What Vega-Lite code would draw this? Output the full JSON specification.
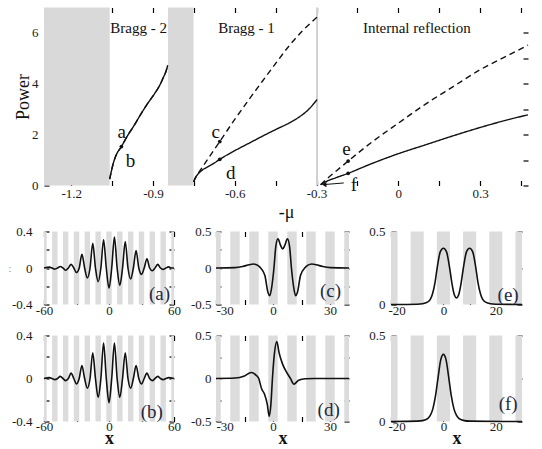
{
"$schema": "https://vega.github.io/schema/vega-lite/v6.json",
"background": "white",
"padding": {"left": 8, "top": 6.5, "right": 0, "bottom": 0},
"config": {
  "font": "Liberation Serif",
  "view": {"stroke": null},
  "axis": {"domain": false, "tickColor": "black", "tickWidth": 1.2, "tickSize": 5, "offset": -5, "grid": false, "labelFont": "Liberation Serif", "labelFontSize": 13, "labelColor": "#1a1a1a", "titleFont": "Liberation Serif", "titleFontWeight": "normal", "titleColor": "#111", "labelFlush": false, "labelOverlap": false, "labelBound": false, "zindex": 1}
},
"spacing": 4,
"vconcat": [
 {
  "width": 484, "height": 178,
  "layer": [
   {"data": {"values": [{"lo": -1.3, "hi": -1.059}, {"lo": -0.845, "hi": -0.751}]},
    "mark": {"type": "rect", "color": "#d9d9d9"},
    "encoding": {
      "x": {"field": "lo", "type": "quantitative", "scale": {"domain": [-1.3, 0.476], "nice": false, "zero": false},
            "axis": {"orient": "bottom", "offset": -5, "values": [-1.2,-1.05,-0.9,-0.75,-0.6,-0.45,-0.3,-0.15,0,0.15,0.3,0.45], "labelExpr": "abs(round(datum.value*100)) % 30 == 0 ? (datum.value == 0 ? '0' : replace(format(datum.value, '.1f'), '−', '-')) : ''", "labelPadding": 2, "title": "-μ", "titleFontSize": 18, "titlePadding": 3}},
      "x2": {"field": "hi"}}},
   {"data": {"values": [{"mu": -0.298}]},
    "mark": {"type": "rule", "color": "#d0d0d0", "strokeWidth": 2},
    "encoding": {"x": {"field": "mu", "type": "quantitative", "scale": {"domain": [-1.3, 0.476], "nice": false, "zero": false}, "axis": null}}},
   {"data": {"values": [
      {"seg": "B2", "branch": "lower", "mu": -1.059, "P": 0.25}, {"seg": "B2", "branch": "lower", "mu": -1.052, "P": 0.6}, {"seg": "B2", "branch": "lower", "mu": -1.045, "P": 0.9}, {"seg": "B2", "branch": "lower", "mu": -1.035, "P": 1.2}, {"seg": "B2", "branch": "lower", "mu": -1.016, "P": 1.53}, {"seg": "B2", "branch": "lower", "mu": -0.995, "P": 1.93}, {"seg": "B2", "branch": "lower", "mu": -0.97, "P": 2.35}, {"seg": "B2", "branch": "lower", "mu": -0.945, "P": 2.8}, {"seg": "B2", "branch": "lower", "mu": -0.92, "P": 3.22}, {"seg": "B2", "branch": "lower", "mu": -0.895, "P": 3.6}, {"seg": "B2", "branch": "lower", "mu": -0.875, "P": 3.95}, {"seg": "B2", "branch": "lower", "mu": -0.862, "P": 4.25}, {"seg": "B2", "branch": "lower", "mu": -0.852, "P": 4.5}, {"seg": "B2", "branch": "lower", "mu": -0.846, "P": 4.73},
      {"seg": "B1", "branch": "lower", "mu": -0.751, "P": 0.15}, {"seg": "B1", "branch": "lower", "mu": -0.745, "P": 0.3}, {"seg": "B1", "branch": "lower", "mu": -0.735, "P": 0.45}, {"seg": "B1", "branch": "lower", "mu": -0.72, "P": 0.6}, {"seg": "B1", "branch": "lower", "mu": -0.7, "P": 0.73}, {"seg": "B1", "branch": "lower", "mu": -0.68, "P": 0.85}, {"seg": "B1", "branch": "lower", "mu": -0.655, "P": 1.03}, {"seg": "B1", "branch": "lower", "mu": -0.6, "P": 1.37}, {"seg": "B1", "branch": "lower", "mu": -0.55, "P": 1.65}, {"seg": "B1", "branch": "lower", "mu": -0.5, "P": 1.93}, {"seg": "B1", "branch": "lower", "mu": -0.45, "P": 2.2}, {"seg": "B1", "branch": "lower", "mu": -0.4, "P": 2.46}, {"seg": "B1", "branch": "lower", "mu": -0.367, "P": 2.67}, {"seg": "B1", "branch": "lower", "mu": -0.33, "P": 2.98}, {"seg": "B1", "branch": "lower", "mu": -0.298, "P": 3.38},
      {"seg": "IR", "branch": "lower", "mu": -0.285, "P": 0.03}, {"seg": "IR", "branch": "lower", "mu": -0.26, "P": 0.18}, {"seg": "IR", "branch": "lower", "mu": -0.23, "P": 0.3}, {"seg": "IR", "branch": "lower", "mu": -0.184, "P": 0.48}, {"seg": "IR", "branch": "lower", "mu": -0.1, "P": 0.85}, {"seg": "IR", "branch": "lower", "mu": 0, "P": 1.25}, {"seg": "IR", "branch": "lower", "mu": 0.1, "P": 1.6}, {"seg": "IR", "branch": "lower", "mu": 0.2, "P": 1.95}, {"seg": "IR", "branch": "lower", "mu": 0.3, "P": 2.28}, {"seg": "IR", "branch": "lower", "mu": 0.4, "P": 2.58}, {"seg": "IR", "branch": "lower", "mu": 0.476, "P": 2.78},
      {"seg": "B2", "branch": "upper", "mu": -1.059, "P": 0.25}, {"seg": "B2", "branch": "upper", "mu": -1.052, "P": 0.6}, {"seg": "B2", "branch": "upper", "mu": -1.045, "P": 0.9}, {"seg": "B2", "branch": "upper", "mu": -1.035, "P": 1.2}, {"seg": "B2", "branch": "upper", "mu": -1.016, "P": 1.53}, {"seg": "B2", "branch": "upper", "mu": -0.995, "P": 1.93}, {"seg": "B2", "branch": "upper", "mu": -0.97, "P": 2.35}, {"seg": "B2", "branch": "upper", "mu": -0.945, "P": 2.8}, {"seg": "B2", "branch": "upper", "mu": -0.92, "P": 3.22}, {"seg": "B2", "branch": "upper", "mu": -0.895, "P": 3.6}, {"seg": "B2", "branch": "upper", "mu": -0.875, "P": 3.95}, {"seg": "B2", "branch": "upper", "mu": -0.862, "P": 4.25}, {"seg": "B2", "branch": "upper", "mu": -0.852, "P": 4.5}, {"seg": "B2", "branch": "upper", "mu": -0.846, "P": 4.73},
      {"seg": "B1", "branch": "upper", "mu": -0.751, "P": 0.15}, {"seg": "B1", "branch": "upper", "mu": -0.74, "P": 0.38}, {"seg": "B1", "branch": "upper", "mu": -0.725, "P": 0.62}, {"seg": "B1", "branch": "upper", "mu": -0.7, "P": 1.02}, {"seg": "B1", "branch": "upper", "mu": -0.655, "P": 1.73}, {"seg": "B1", "branch": "upper", "mu": -0.6, "P": 2.6}, {"seg": "B1", "branch": "upper", "mu": -0.55, "P": 3.35}, {"seg": "B1", "branch": "upper", "mu": -0.5, "P": 4.08}, {"seg": "B1", "branch": "upper", "mu": -0.45, "P": 4.8}, {"seg": "B1", "branch": "upper", "mu": -0.4, "P": 5.5}, {"seg": "B1", "branch": "upper", "mu": -0.35, "P": 6.1}, {"seg": "B1", "branch": "upper", "mu": -0.298, "P": 6.62},
      {"seg": "IR", "branch": "upper", "mu": -0.285, "P": 0.03}, {"seg": "IR", "branch": "upper", "mu": -0.26, "P": 0.28}, {"seg": "IR", "branch": "upper", "mu": -0.23, "P": 0.55}, {"seg": "IR", "branch": "upper", "mu": -0.184, "P": 0.96}, {"seg": "IR", "branch": "upper", "mu": -0.1, "P": 1.68}, {"seg": "IR", "branch": "upper", "mu": 0, "P": 2.45}, {"seg": "IR", "branch": "upper", "mu": 0.1, "P": 3.2}, {"seg": "IR", "branch": "upper", "mu": 0.2, "P": 3.88}, {"seg": "IR", "branch": "upper", "mu": 0.3, "P": 4.55}, {"seg": "IR", "branch": "upper", "mu": 0.4, "P": 5.1}, {"seg": "IR", "branch": "upper", "mu": 0.476, "P": 5.52}
    ]},
    "mark": {"type": "line", "color": "#111", "strokeWidth": 1.4, "interpolate": "monotone"},
    "encoding": {
      "x": {"field": "mu", "type": "quantitative", "scale": {"domain": [-1.3, 0.476], "nice": false, "zero": false},
            "axis": {"orient": "top", "offset": -5, "values": [-1.2,-1.05,-0.9,-0.75,-0.6,-0.45,-0.3,-0.15,0,0.15,0.3,0.45], "labels": false, "title": null}},
      "y": {"field": "P", "type": "quantitative", "scale": {"domain": [0, 7], "nice": false, "zero": false},
            "axis": {"orient": "left", "offset": -5, "values": [0,1,2,3,4,5,6], "labelExpr": "datum.value % 2 == 0 ? format(datum.value, 'd') : ''", "labelPadding": 6, "title": "Power", "titleFontSize": 18, "titlePadding": -1}},
      "strokeDash": {"field": "branch", "type": "nominal", "scale": {"domain": ["lower", "upper"], "range": [[1, 0], [6, 4]]}, "legend": null},
      "detail": {"field": "seg"}}},
   {"data": {"values": [{"mu": -0.2, "P": 0.1}, {"mu": -0.268, "P": 0.04}]},
    "mark": {"type": "line", "color": "#111", "strokeWidth": 1},
    "encoding": {"x": {"field": "mu", "type": "quantitative", "scale": {"domain": [-1.3, 0.476], "nice": false, "zero": false}, "axis": null},
                 "y": {"field": "P", "type": "quantitative", "scale": {"domain": [0, 7], "nice": false, "zero": false}, "axis": null}}},
   {"data": {"values": [{"mu": -0.272, "P": 0.037}]},
    "mark": {"type": "point", "shape": "triangle-left", "filled": true, "color": "#111", "size": 28, "opacity": 1},
    "encoding": {"x": {"field": "mu", "type": "quantitative", "scale": {"domain": [-1.3, 0.476], "nice": false, "zero": false}, "axis": null},
                 "y": {"field": "P", "type": "quantitative", "scale": {"domain": [0, 7], "nice": false, "zero": false}, "axis": null}}},
   {"data": {"values": [{"mu": -1.016, "P": 1.53}, {"mu": -0.655, "P": 1.73}, {"mu": -0.655, "P": 1.03}, {"mu": -0.184, "P": 0.96}, {"mu": -0.184, "P": 0.48}]},
    "mark": {"type": "circle", "color": "#111", "size": 14, "opacity": 1},
    "encoding": {"x": {"field": "mu", "type": "quantitative", "scale": {"domain": [-1.3, 0.476], "nice": false, "zero": false}, "axis": null},
                 "y": {"field": "P", "type": "quantitative", "scale": {"domain": [0, 7], "nice": false, "zero": false},
                       "axis": {"orient": "right", "offset": -5, "values": [0,1,2,3,4,5,6], "labels": false, "title": null}}}},
   {"data": {"values": [{"label": "Bragg - 2", "mu": -0.953, "P": 6.0}, {"label": "Bragg - 1", "mu": -0.557, "P": 6.0}, {"label": "Internal reflection", "mu": 0.068, "P": 6.0}]},
    "mark": {"type": "text", "font": "Liberation Serif", "fontSize": 15, "color": "#111", "baseline": "alphabetic", "align": "center"},
    "encoding": {"x": {"field": "mu", "type": "quantitative", "scale": {"domain": [-1.3, 0.476], "nice": false, "zero": false}, "axis": null},
                 "y": {"field": "P", "type": "quantitative", "scale": {"domain": [0, 7], "nice": false, "zero": false}, "axis": null},
                 "text": {"field": "label"}}},
   {"data": {"values": [{"label": "a", "mu": -1.015, "P": 1.85}, {"label": "b", "mu": -0.983, "P": 0.72}, {"label": "c", "mu": -0.67, "P": 1.85}, {"label": "d", "mu": -0.615, "P": 0.27}, {"label": "e", "mu": -0.19, "P": 1.18}, {"label": "f", "mu": -0.163, "P": -0.2}]},
    "mark": {"type": "text", "font": "Liberation Serif", "fontSize": 19, "color": "#111", "baseline": "alphabetic", "align": "center"},
    "encoding": {"x": {"field": "mu", "type": "quantitative", "scale": {"domain": [-1.3, 0.476], "nice": false, "zero": false}, "axis": null},
                 "y": {"field": "P", "type": "quantitative", "scale": {"domain": [0, 7], "nice": false, "zero": false}, "axis": null},
                 "text": {"field": "label"}}},
   {"mark": {"type": "rect", "filled": false, "stroke": "black", "strokeWidth": 1},
    "encoding": {"x": {"datum": -1.3, "type": "quantitative", "scale": {"domain": [-1.3, 0.476], "nice": false, "zero": false}, "axis": null}, "x2": {"datum": 0.476},
                 "y": {"datum": 0, "type": "quantitative", "scale": {"domain": [0, 7], "nice": false, "zero": false}, "axis": null}, "y2": {"datum": 7}}}
  ]
 },
 {
  "columns": 3,
  "bounds": "flush",
  "spacing": {"row": 31, "column": 42},
  "concat": [
   {"width": 130, "height": 73,
    "layer": [
     {"data": {"values": [{"lo": -60, "hi": -57.5}, {"lo": -52.5, "hi": -47.5}, {"lo": -42.5, "hi": -37.5}, {"lo": -32.5, "hi": -27.5}, {"lo": -22.5, "hi": -17.5}, {"lo": -12.5, "hi": -7.5}, {"lo": -2.5, "hi": 2.5}, {"lo": 7.5, "hi": 12.5}, {"lo": 17.5, "hi": 22.5}, {"lo": 27.5, "hi": 32.5}, {"lo": 37.5, "hi": 42.5}, {"lo": 47.5, "hi": 52.5}, {"lo": 57.5, "hi": 60}]},
      "mark": {"type": "rect", "color": "#dcdcdc"},
      "encoding": {"x": {"field": "lo", "type": "quantitative", "scale": {"domain": [-60, 60], "nice": false, "zero": false},
                         "axis": {"orient": "bottom", "offset": -5, "values": [-60,-30,0,30,60], "labelExpr": "datum.value % 60 == 0 ? replace(format(datum.value, 'd'), '−', '-') : ''", "labelPadding": 0, "title": null}},
                   "x2": {"field": "hi"}}},
     {"data": {"values": [{"x": -60, "y": 0}, {"x": -55, "y": 0.01}, {"x": -52.5, "y": 0}, {"x": -50, "y": -0.012}, {"x": -47.5, "y": 0}, {"x": -45, "y": 0.016}, {"x": -42.5, "y": 0}, {"x": -40, "y": -0.025}, {"x": -37.5, "y": 0}, {"x": -35, "y": 0.04}, {"x": -32.5, "y": 0}, {"x": -30, "y": -0.05}, {"x": -27.5, "y": 0}, {"x": -25, "y": 0.15}, {"x": -22.5, "y": 0}, {"x": -20, "y": -0.11}, {"x": -17.5, "y": 0}, {"x": -15, "y": 0.27}, {"x": -12.5, "y": 0}, {"x": -10, "y": -0.15}, {"x": -7.5, "y": 0}, {"x": -5, "y": 0.31}, {"x": -2.5, "y": 0}, {"x": 0, "y": -0.22}, {"x": 2.5, "y": 0}, {"x": 5, "y": 0.34}, {"x": 7.5, "y": 0}, {"x": 10, "y": -0.19}, {"x": 12.5, "y": 0}, {"x": 15, "y": 0.29}, {"x": 17.5, "y": 0}, {"x": 20, "y": -0.12}, {"x": 22.5, "y": 0}, {"x": 25, "y": 0.19}, {"x": 27.5, "y": 0}, {"x": 30, "y": -0.07}, {"x": 32.5, "y": 0}, {"x": 35, "y": 0.1}, {"x": 37.5, "y": 0}, {"x": 40, "y": -0.03}, {"x": 42.5, "y": 0}, {"x": 45, "y": 0.04}, {"x": 47.5, "y": 0}, {"x": 50, "y": -0.015}, {"x": 52.5, "y": 0}, {"x": 55, "y": 0.012}, {"x": 57.5, "y": 0}, {"x": 60, "y": 0}]},
      "mark": {"type": "line", "color": "#111", "strokeWidth": 1.6, "interpolate": "monotone"},
      "encoding": {"x": {"field": "x", "type": "quantitative", "scale": {"domain": [-60, 60], "nice": false, "zero": false}, "axis": {"orient": "top", "offset": -5, "values": [-60,-30,0,30,60], "labels": false, "title": null}},
                   "y": {"field": "y", "type": "quantitative", "scale": {"domain": [-0.4, 0.4], "nice": false, "zero": false}, "axis": {"orient": "left", "offset": -5, "values": [-0.4,-0.2,0,0.2,0.4], "labelExpr": "abs(datum.value) > 0.3 ? replace(format(datum.value, '.1f'), '−', '-') : (datum.value == 0 ? '0' : '')", "labelPadding": 12, "title": ":", "titleAngle": 0, "titleFontSize": 10, "titleColor": "#888", "titleAlign": "right", "titleBaseline": "middle", "titlePadding": 0.6}}}},
     {"data": {"values": [{"label": "(a)", "x": 46.6, "y": -0.356}]},
      "mark": {"type": "text", "font": "Liberation Serif", "fontSize": 19, "color": "#1f2a44", "baseline": "alphabetic", "align": "center"},
      "encoding": {"x": {"field": "x", "type": "quantitative", "scale": {"domain": [-60, 60], "nice": false, "zero": false}, "axis": null},
                   "y": {"field": "y", "type": "quantitative", "scale": {"domain": [-0.4, 0.4], "nice": false, "zero": false}, "axis": {"orient": "right", "offset": -5, "values": [-0.4,-0.2,0,0.2,0.4], "labels": false, "title": null}},
                   "text": {"field": "label"}}},
     {"mark": {"type": "rect", "filled": false, "stroke": "black", "strokeWidth": 1},
      "encoding": {"x": {"datum": -60, "type": "quantitative", "scale": {"domain": [-60, 60], "nice": false, "zero": false}, "axis": null}, "x2": {"datum": 60},
                   "y": {"datum": -0.4, "type": "quantitative", "scale": {"domain": [-0.4, 0.4], "nice": false, "zero": false}, "axis": null}, "y2": {"datum": 0.4}}}
    ]},
   {"width": 133, "height": 73,
    "layer": [
     {"data": {"values": [{"lo": -30, "hi": -27.5}, {"lo": -22.5, "hi": -17.5}, {"lo": -12.5, "hi": -7.5}, {"lo": -2.5, "hi": 2.5}, {"lo": 7.5, "hi": 12.5}, {"lo": 17.5, "hi": 22.5}, {"lo": 27.5, "hi": 32.5}, {"lo": 37.5, "hi": 40}]},
      "mark": {"type": "rect", "color": "#dcdcdc"},
      "encoding": {"x": {"field": "lo", "type": "quantitative", "scale": {"domain": [-30, 40], "nice": false, "zero": false},
                         "axis": {"orient": "bottom", "offset": -5, "values": [-30,-15,0,15,30], "labelExpr": "datum.value % 30 == 0 ? replace(format(datum.value, 'd'), '−', '-') : ''", "labelPadding": 0, "labelFlush": true, "labelFlushOffset": 0, "title": null}},
                   "x2": {"field": "hi"}}},
     {"data": {"values": [{"x": -30, "y": 0}, {"x": -20, "y": 0.005}, {"x": -16, "y": 0.02}, {"x": -12.5, "y": 0.045}, {"x": -10.3, "y": 0.055}, {"x": -8, "y": 0.035}, {"x": -6.5, "y": 0}, {"x": -4.3, "y": -0.1}, {"x": -2.6, "y": -0.34}, {"x": -1.7, "y": -0.38}, {"x": -0.6, "y": -0.25}, {"x": 0.5, "y": 0}, {"x": 1.5, "y": 0.3}, {"x": 2.6, "y": 0.4}, {"x": 4, "y": 0.31}, {"x": 5.1, "y": 0.26}, {"x": 6.2, "y": 0.31}, {"x": 7.6, "y": 0.4}, {"x": 8.7, "y": 0.3}, {"x": 9.7, "y": 0}, {"x": 10.8, "y": -0.25}, {"x": 11.9, "y": -0.38}, {"x": 12.8, "y": -0.34}, {"x": 14.5, "y": -0.1}, {"x": 16.7, "y": 0}, {"x": 18.2, "y": 0.035}, {"x": 20.5, "y": 0.055}, {"x": 22.7, "y": 0.045}, {"x": 26.2, "y": 0.02}, {"x": 30.2, "y": 0.005}, {"x": 40, "y": 0}]},
      "mark": {"type": "line", "color": "#111", "strokeWidth": 1.6, "interpolate": "monotone"},
      "encoding": {"x": {"field": "x", "type": "quantitative", "scale": {"domain": [-30, 40], "nice": false, "zero": false}, "axis": {"orient": "top", "offset": -5, "values": [-30,-15,0,15,30], "labels": false, "title": null}},
                   "y": {"field": "y", "type": "quantitative", "scale": {"domain": [-0.5, 0.5], "nice": false, "zero": false}, "axis": {"orient": "left", "offset": -5, "values": [-0.5,-0.25,0,0.25,0.5], "labelExpr": "abs(datum.value) > 0.4 ? replace(format(datum.value, '.1f'), '−', '-') : (datum.value == 0 ? '0' : '')", "labelPadding": 5, "title": null}}}},
     {"data": {"values": [{"label": "(c)", "x": 30.3, "y": -0.4}]},
      "mark": {"type": "text", "font": "Liberation Serif", "fontSize": 19, "color": "#1f2a44", "baseline": "alphabetic", "align": "center"},
      "encoding": {"x": {"field": "x", "type": "quantitative", "scale": {"domain": [-30, 40], "nice": false, "zero": false}, "axis": null},
                   "y": {"field": "y", "type": "quantitative", "scale": {"domain": [-0.5, 0.5], "nice": false, "zero": false}, "axis": {"orient": "right", "offset": -5, "values": [-0.5,-0.25,0,0.25,0.5], "labels": false, "title": null}},
                   "text": {"field": "label"}}},
     {"mark": {"type": "rect", "filled": false, "stroke": "black", "strokeWidth": 1},
      "encoding": {"x": {"datum": -30, "type": "quantitative", "scale": {"domain": [-30, 40], "nice": false, "zero": false}, "axis": null}, "x2": {"datum": 40},
                   "y": {"datum": -0.5, "type": "quantitative", "scale": {"domain": [-0.5, 0.5], "nice": false, "zero": false}, "axis": null}, "y2": {"datum": 0.5}}}
    ]},
   {"width": 131, "height": 73,
    "layer": [
     {"data": {"values": [{"lo": -20, "hi": -17.5}, {"lo": -12.5, "hi": -7.5}, {"lo": -2.5, "hi": 2.5}, {"lo": 7.5, "hi": 12.5}, {"lo": 17.5, "hi": 22.5}, {"lo": 27.5, "hi": 30}]},
      "mark": {"type": "rect", "color": "#dcdcdc"},
      "encoding": {"x": {"field": "lo", "type": "quantitative", "scale": {"domain": [-20, 30], "nice": false, "zero": false},
                         "axis": {"orient": "bottom", "offset": -5, "values": [-20,-10,0,10,20], "labelExpr": "datum.value % 20 == 0 ? replace(format(datum.value, 'd'), '−', '-') : ''", "labelPadding": 0, "labelFlush": true, "labelFlushOffset": 3, "title": null}},
                   "x2": {"field": "hi"}}},
     {"data": {"values": [{"x": -20, "y": 0}, {"x": -10, "y": 0.002}, {"x": -8, "y": 0.005}, {"x": -6.1, "y": 0.016}, {"x": -5, "y": 0.035}, {"x": -4.2, "y": 0.07}, {"x": -3.2, "y": 0.15}, {"x": -2.3, "y": 0.26}, {"x": -1.2, "y": 0.36}, {"x": 0, "y": 0.385}, {"x": 1.2, "y": 0.36}, {"x": 2.3, "y": 0.26}, {"x": 3.3, "y": 0.14}, {"x": 4.2, "y": 0.065}, {"x": 5, "y": 0.045}, {"x": 5.8, "y": 0.065}, {"x": 6.7, "y": 0.14}, {"x": 7.7, "y": 0.26}, {"x": 8.8, "y": 0.36}, {"x": 10, "y": 0.385}, {"x": 11.2, "y": 0.36}, {"x": 12.3, "y": 0.26}, {"x": 13.2, "y": 0.15}, {"x": 14.2, "y": 0.07}, {"x": 15, "y": 0.035}, {"x": 16.1, "y": 0.016}, {"x": 18, "y": 0.005}, {"x": 20, "y": 0.002}, {"x": 30, "y": 0}]},
      "mark": {"type": "line", "color": "#111", "strokeWidth": 1.6, "interpolate": "monotone"},
      "encoding": {"x": {"field": "x", "type": "quantitative", "scale": {"domain": [-20, 30], "nice": false, "zero": false}, "axis": {"orient": "top", "offset": -5, "values": [-20,-10,0,10,20], "labels": false, "title": null}},
                   "y": {"field": "y", "type": "quantitative", "scale": {"domain": [0, 0.5], "nice": false, "zero": false}, "axis": {"orient": "left", "offset": -5, "values": [0,0.25,0.5], "labelExpr": "abs(datum.value) > 0.4 ? replace(format(datum.value, '.1f'), '−', '-') : (datum.value == 0 ? '0' : '')", "labelPadding": 6, "title": null}}}},
     {"data": {"values": [{"label": "(e)", "x": 24.7, "y": 0.027}]},
      "mark": {"type": "text", "font": "Liberation Serif", "fontSize": 19, "color": "#1f2a44", "baseline": "alphabetic", "align": "center"},
      "encoding": {"x": {"field": "x", "type": "quantitative", "scale": {"domain": [-20, 30], "nice": false, "zero": false}, "axis": null},
                   "y": {"field": "y", "type": "quantitative", "scale": {"domain": [0, 0.5], "nice": false, "zero": false}, "axis": {"orient": "right", "offset": -5, "values": [0,0.25,0.5], "labels": false, "title": null}},
                   "text": {"field": "label"}}},
     {"mark": {"type": "rect", "filled": false, "stroke": "black", "strokeWidth": 1},
      "encoding": {"x": {"datum": -20, "type": "quantitative", "scale": {"domain": [-20, 30], "nice": false, "zero": false}, "axis": null}, "x2": {"datum": 30},
                   "y": {"datum": 0, "type": "quantitative", "scale": {"domain": [0, 0.5], "nice": false, "zero": false}, "axis": null}, "y2": {"datum": 0.5}}}
    ]},
   {"width": 130, "height": 86,
    "layer": [
     {"data": {"values": [{"lo": -60, "hi": -57.5}, {"lo": -52.5, "hi": -47.5}, {"lo": -42.5, "hi": -37.5}, {"lo": -32.5, "hi": -27.5}, {"lo": -22.5, "hi": -17.5}, {"lo": -12.5, "hi": -7.5}, {"lo": -2.5, "hi": 2.5}, {"lo": 7.5, "hi": 12.5}, {"lo": 17.5, "hi": 22.5}, {"lo": 27.5, "hi": 32.5}, {"lo": 37.5, "hi": 42.5}, {"lo": 47.5, "hi": 52.5}, {"lo": 57.5, "hi": 60}]},
      "mark": {"type": "rect", "color": "#dcdcdc"},
      "encoding": {"x": {"field": "lo", "type": "quantitative", "scale": {"domain": [-60, 60], "nice": false, "zero": false},
                         "axis": {"orient": "bottom", "offset": -5, "values": [-60,-30,0,30,60], "labelExpr": "datum.value % 60 == 0 ? replace(format(datum.value, 'd'), '−', '-') : ''", "labelPadding": -1, "title": "x", "titleFontSize": 18, "titleFontWeight": "bold", "titlePadding": -4}},
                   "x2": {"field": "hi"}}},
     {"data": {"values": [{"x": -60, "y": 0}, {"x": -55, "y": 0.008}, {"x": -52.5, "y": 0}, {"x": -50, "y": -0.01}, {"x": -47.5, "y": 0}, {"x": -45, "y": 0.02}, {"x": -42.5, "y": 0}, {"x": -40, "y": -0.02}, {"x": -37.5, "y": 0}, {"x": -35, "y": 0.05}, {"x": -32.5, "y": 0}, {"x": -30, "y": -0.05}, {"x": -27.5, "y": 0}, {"x": -25, "y": 0.12}, {"x": -22.5, "y": 0}, {"x": -20, "y": -0.09}, {"x": -17.5, "y": 0}, {"x": -15, "y": 0.24}, {"x": -12.5, "y": 0}, {"x": -10, "y": -0.175}, {"x": -7.5, "y": 0}, {"x": -5, "y": 0.33}, {"x": -2.5, "y": 0}, {"x": 0, "y": -0.225}, {"x": 2.5, "y": 0}, {"x": 5, "y": 0.33}, {"x": 7.5, "y": 0}, {"x": 10, "y": -0.175}, {"x": 12.5, "y": 0}, {"x": 15, "y": 0.24}, {"x": 17.5, "y": 0}, {"x": 20, "y": -0.09}, {"x": 22.5, "y": 0}, {"x": 25, "y": 0.12}, {"x": 27.5, "y": 0}, {"x": 30, "y": -0.05}, {"x": 32.5, "y": 0}, {"x": 35, "y": 0.05}, {"x": 37.5, "y": 0}, {"x": 40, "y": -0.02}, {"x": 42.5, "y": 0}, {"x": 45, "y": 0.02}, {"x": 47.5, "y": 0}, {"x": 50, "y": -0.01}, {"x": 52.5, "y": 0}, {"x": 55, "y": 0.008}, {"x": 60, "y": 0}]},
      "mark": {"type": "line", "color": "#111", "strokeWidth": 1.6, "interpolate": "monotone"},
      "encoding": {"x": {"field": "x", "type": "quantitative", "scale": {"domain": [-60, 60], "nice": false, "zero": false}, "axis": {"orient": "top", "offset": -5, "values": [-60,-30,0,30,60], "labels": false, "title": null}},
                   "y": {"field": "y", "type": "quantitative", "scale": {"domain": [-0.4, 0.4], "nice": false, "zero": false}, "axis": {"orient": "left", "offset": -5, "values": [-0.4,-0.2,0,0.2,0.4], "labelExpr": "abs(datum.value) > 0.3 ? replace(format(datum.value, '.1f'), '−', '-') : (datum.value == 0 ? '0' : '')", "labelPadding": 12, "title": null}}}},
     {"data": {"values": [{"label": "(b)", "x": 39.5, "y": -0.37}]},
      "mark": {"type": "text", "font": "Liberation Serif", "fontSize": 19, "color": "#1f2a44", "baseline": "alphabetic", "align": "center"},
      "encoding": {"x": {"field": "x", "type": "quantitative", "scale": {"domain": [-60, 60], "nice": false, "zero": false}, "axis": null},
                   "y": {"field": "y", "type": "quantitative", "scale": {"domain": [-0.4, 0.4], "nice": false, "zero": false}, "axis": {"orient": "right", "offset": -5, "values": [-0.4,-0.2,0,0.2,0.4], "labels": false, "title": null}},
                   "text": {"field": "label"}}},
     {"mark": {"type": "rect", "filled": false, "stroke": "black", "strokeWidth": 1},
      "encoding": {"x": {"datum": -60, "type": "quantitative", "scale": {"domain": [-60, 60], "nice": false, "zero": false}, "axis": null}, "x2": {"datum": 60},
                   "y": {"datum": -0.4, "type": "quantitative", "scale": {"domain": [-0.4, 0.4], "nice": false, "zero": false}, "axis": null}, "y2": {"datum": 0.4}}}
    ]},
   {"width": 133, "height": 86,
    "layer": [
     {"data": {"values": [{"lo": -30, "hi": -27.5}, {"lo": -22.5, "hi": -17.5}, {"lo": -12.5, "hi": -7.5}, {"lo": -2.5, "hi": 2.5}, {"lo": 7.5, "hi": 12.5}, {"lo": 17.5, "hi": 22.5}, {"lo": 27.5, "hi": 32.5}, {"lo": 37.5, "hi": 40}]},
      "mark": {"type": "rect", "color": "#dcdcdc"},
      "encoding": {"x": {"field": "lo", "type": "quantitative", "scale": {"domain": [-30, 40], "nice": false, "zero": false},
                         "axis": {"orient": "bottom", "offset": -5, "values": [-30,-15,0,15,30], "labelExpr": "datum.value % 30 == 0 ? replace(format(datum.value, 'd'), '−', '-') : ''", "labelPadding": -1, "labelFlush": true, "labelFlushOffset": 0, "title": "x", "titleFontSize": 18, "titleFontWeight": "bold", "titlePadding": -4}},
                   "x2": {"field": "hi"}}},
     {"data": {"values": [{"x": -30, "y": 0}, {"x": -20, "y": 0.005}, {"x": -15, "y": 0.03}, {"x": -11.5, "y": 0.07}, {"x": -9, "y": 0.04}, {"x": -7.5, "y": 0}, {"x": -6, "y": -0.12}, {"x": -4.5, "y": -0.18}, {"x": -3, "y": -0.3}, {"x": -2, "y": -0.44}, {"x": -1.1, "y": -0.3}, {"x": -0.3, "y": 0}, {"x": 0.8, "y": 0.3}, {"x": 2, "y": 0.43}, {"x": 3.2, "y": 0.3}, {"x": 5, "y": 0.17}, {"x": 7.2, "y": 0.07}, {"x": 9.2, "y": 0}, {"x": 11, "y": -0.066}, {"x": 13.5, "y": -0.02}, {"x": 17, "y": -0.003}, {"x": 22, "y": 0}, {"x": 40, "y": 0}]},
      "mark": {"type": "line", "color": "#111", "strokeWidth": 1.6, "interpolate": "monotone"},
      "encoding": {"x": {"field": "x", "type": "quantitative", "scale": {"domain": [-30, 40], "nice": false, "zero": false}, "axis": {"orient": "top", "offset": -5, "values": [-30,-15,0,15,30], "labels": false, "title": null}},
                   "y": {"field": "y", "type": "quantitative", "scale": {"domain": [-0.5, 0.5], "nice": false, "zero": false}, "axis": {"orient": "left", "offset": -5, "values": [-0.5,-0.25,0,0.25,0.5], "labelExpr": "abs(datum.value) > 0.4 ? replace(format(datum.value, '.1f'), '−', '-') : (datum.value == 0 ? '0' : '')", "labelPadding": 5, "title": null}}}},
     {"data": {"values": [{"label": "(d)", "x": 29.3, "y": -0.44}]},
      "mark": {"type": "text", "font": "Liberation Serif", "fontSize": 19, "color": "#1f2a44", "baseline": "alphabetic", "align": "center"},
      "encoding": {"x": {"field": "x", "type": "quantitative", "scale": {"domain": [-30, 40], "nice": false, "zero": false}, "axis": null},
                   "y": {"field": "y", "type": "quantitative", "scale": {"domain": [-0.5, 0.5], "nice": false, "zero": false}, "axis": {"orient": "right", "offset": -5, "values": [-0.5,-0.25,0,0.25,0.5], "labels": false, "title": null}},
                   "text": {"field": "label"}}},
     {"mark": {"type": "rect", "filled": false, "stroke": "black", "strokeWidth": 1},
      "encoding": {"x": {"datum": -30, "type": "quantitative", "scale": {"domain": [-30, 40], "nice": false, "zero": false}, "axis": null}, "x2": {"datum": 40},
                   "y": {"datum": -0.5, "type": "quantitative", "scale": {"domain": [-0.5, 0.5], "nice": false, "zero": false}, "axis": null}, "y2": {"datum": 0.5}}}
    ]},
   {"width": 131, "height": 86,
    "layer": [
     {"data": {"values": [{"lo": -20, "hi": -17.5}, {"lo": -12.5, "hi": -7.5}, {"lo": -2.5, "hi": 2.5}, {"lo": 7.5, "hi": 12.5}, {"lo": 17.5, "hi": 22.5}, {"lo": 27.5, "hi": 30}]},
      "mark": {"type": "rect", "color": "#dcdcdc"},
      "encoding": {"x": {"field": "lo", "type": "quantitative", "scale": {"domain": [-20, 30], "nice": false, "zero": false},
                         "axis": {"orient": "bottom", "offset": -5, "values": [-20,-10,0,10,20], "labelExpr": "datum.value % 20 == 0 ? replace(format(datum.value, 'd'), '−', '-') : ''", "labelPadding": -1, "labelFlush": true, "labelFlushOffset": 3, "title": "x", "titleFontSize": 18, "titleFontWeight": "bold", "titlePadding": -4}},
                   "x2": {"field": "hi"}}},
     {"data": {"values": [{"x": -20, "y": 0}, {"x": -10, "y": 0.002}, {"x": -8, "y": 0.005}, {"x": -6, "y": 0.017}, {"x": -5, "y": 0.035}, {"x": -4, "y": 0.075}, {"x": -3, "y": 0.15}, {"x": -2, "y": 0.26}, {"x": -1, "y": 0.36}, {"x": 0, "y": 0.39}, {"x": 1, "y": 0.36}, {"x": 2, "y": 0.26}, {"x": 3, "y": 0.15}, {"x": 4, "y": 0.075}, {"x": 5, "y": 0.035}, {"x": 6, "y": 0.017}, {"x": 8, "y": 0.005}, {"x": 10, "y": 0.002}, {"x": 30, "y": 0}]},
      "mark": {"type": "line", "color": "#111", "strokeWidth": 1.6, "interpolate": "monotone"},
      "encoding": {"x": {"field": "x", "type": "quantitative", "scale": {"domain": [-20, 30], "nice": false, "zero": false}, "axis": {"orient": "top", "offset": -5, "values": [-20,-10,0,10,20], "labels": false, "title": null}},
                   "y": {"field": "y", "type": "quantitative", "scale": {"domain": [0, 0.5], "nice": false, "zero": false}, "axis": {"orient": "left", "offset": -5, "values": [0,0.25,0.5], "labelExpr": "abs(datum.value) > 0.4 ? replace(format(datum.value, '.1f'), '−', '-') : (datum.value == 0 ? '0' : '')", "labelPadding": 6, "title": null}}}},
     {"data": {"values": [{"label": "(f)", "x": 24.7, "y": 0.064}]},
      "mark": {"type": "text", "font": "Liberation Serif", "fontSize": 19, "color": "#1f2a44", "baseline": "alphabetic", "align": "center"},
      "encoding": {"x": {"field": "x", "type": "quantitative", "scale": {"domain": [-20, 30], "nice": false, "zero": false}, "axis": null},
                   "y": {"field": "y", "type": "quantitative", "scale": {"domain": [0, 0.5], "nice": false, "zero": false}, "axis": {"orient": "right", "offset": -5, "values": [0,0.25,0.5], "labels": false, "title": null}},
                   "text": {"field": "label"}}},
     {"mark": {"type": "rect", "filled": false, "stroke": "black", "strokeWidth": 1},
      "encoding": {"x": {"datum": -20, "type": "quantitative", "scale": {"domain": [-20, 30], "nice": false, "zero": false}, "axis": null}, "x2": {"datum": 30},
                   "y": {"datum": 0, "type": "quantitative", "scale": {"domain": [0, 0.5], "nice": false, "zero": false}, "axis": null}, "y2": {"datum": 0.5}}}
    ]}
  ]
 }
]
}
